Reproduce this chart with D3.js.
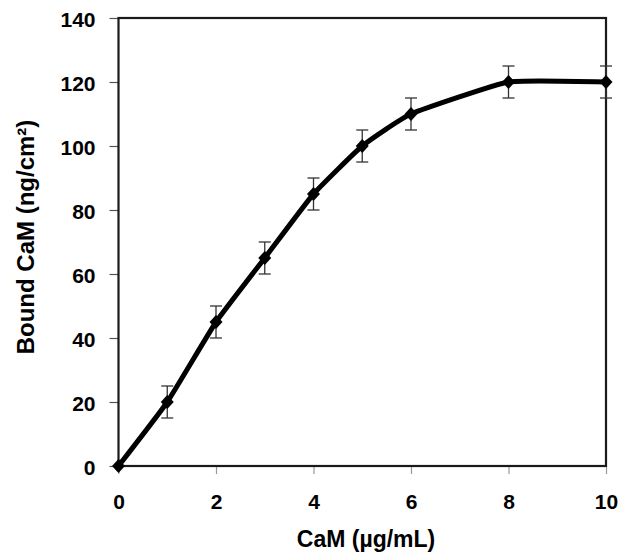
<!DOCTYPE html>
<html><head><meta charset="utf-8">
<script src="https://cdn.jsdelivr.net/npm/d3@7"></script>
<style>body{margin:0;background:#fff}svg{display:block}text{font-family:"Liberation Sans",Arial,sans-serif;font-weight:bold;fill:#000}</style>
</head><body>
<svg id="c" width="627" height="554"></svg>
<script>
const conc = [0, 1, 2, 3, 4, 5, 6, 8, 10];
const bound = [0, 20, 45, 65, 85, 100, 110, 120, 120];
const errs = [0, 5, 5, 5, 5, 5, 5, 5, 5];
const xTicks = [0, 2, 4, 6, 8, 10];
const yTicks = [0, 20, 40, 60, 80, 100, 120, 140];

const svg = d3.select("#c");
const L = 118.5, R = 606, T = 18, B = 466;
const x = d3.scaleLinear().domain([0, 10]).range([L, R]);
const y = d3.scaleLinear().domain([0, 140]).range([B, T]);

const yAx = svg.append("g").attr("transform", `translate(${L},0)`)
  .call(d3.axisLeft(y).tickValues(yTicks).tickSize(9).tickPadding(14).tickFormat(d3.format("d")));
yAx.select(".domain").remove();
yAx.selectAll("line").attr("stroke", "#555").attr("stroke-width", 1.2);
yAx.selectAll("text").attr("font-size", 21).attr("dy", "0.42em");

const xAx = svg.append("g").attr("transform", `translate(0,${B})`)
  .call(d3.axisBottom(x).tickValues(xTicks).tickSize(8).tickPadding(20).tickFormat(d3.format("d")));
xAx.select(".domain").remove();
xAx.selectAll("line").attr("stroke", "#999").attr("stroke-width", 1.2);
xAx.selectAll("text").attr("font-size", 21).attr("dy", "0.72em");

svg.append("rect").attr("x", L).attr("y", T).attr("width", R - L).attr("height", B - T)
  .attr("fill", "none").attr("stroke", "#1a1a1a").attr("stroke-width", 2.2);

const eb = svg.append("g").attr("stroke", "#333").attr("stroke-width", 1.3);
conc.forEach((c, i) => {
  if (!errs[i]) return;
  const cx = x(c);
  eb.append("line").attr("x1", cx).attr("x2", cx).attr("y1", y(bound[i] - errs[i])).attr("y2", y(bound[i] + errs[i]));
  [bound[i] - errs[i], bound[i] + errs[i]].forEach(v => {
    eb.append("line").attr("x1", cx - 6).attr("x2", cx + 6).attr("y1", y(v)).attr("y2", y(v));
  });
});

const line = d3.line().x((d, i) => x(conc[i])).y(d => y(d)).curve(d3.curveCardinal.tension(0.6));
svg.append("path").datum(bound).attr("d", line).attr("fill", "none").attr("stroke", "#000")
  .attr("stroke-width", 5).attr("stroke-linejoin", "round");

svg.append("g").selectAll("path").data(bound).join("path")
  .attr("transform", (d, i) => `translate(${x(conc[i])},${y(d)})`)
  .attr("d", "M0,-7L6.5,0L0,7L-6.5,0Z").attr("fill", "#000");

svg.append("text").attr("x", 366).attr("y", 547).attr("text-anchor", "middle")
  .attr("font-size", 23).text("CaM (µg/mL)");
svg.append("text").attr("transform", `translate(34,237) rotate(-90)`).attr("text-anchor", "middle")
  .attr("font-size", 24).text("Bound CaM (ng/cm²)");
</script>
</body></html>
